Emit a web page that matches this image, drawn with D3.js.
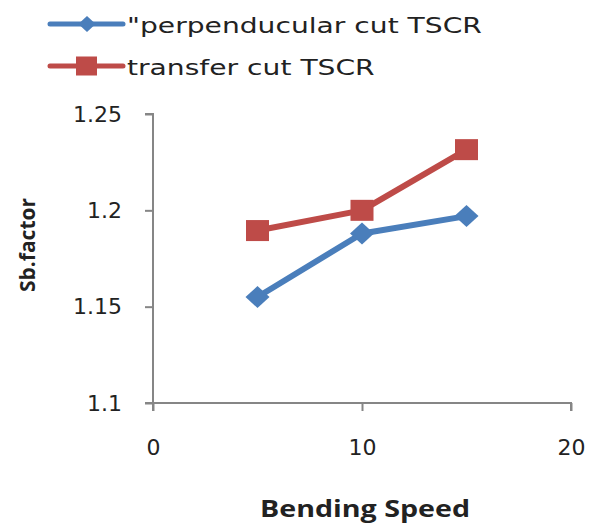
<!DOCTYPE html>
<html><head><meta charset="utf-8">
<script src="https://cdn.jsdelivr.net/npm/d3@7"></script>
<style>body{margin:0;background:#fff}svg{display:block}</style>
</head><body>
<svg id="c" width="596" height="523"></svg>
<script>
const xValues = [5, 10, 15];
const perpendicular = [1.155, 1.188, 1.197];
const transfer = [1.1895, 1.2, 1.2315];
const seriesNames = ['"perpendu cular cut TSCR'.replace(' ', ''), 'transfer cut TSCR'];
const xTicks = [0, 10, 20];
const yTicks = [1.1, 1.15, 1.2, 1.25];
const yTickLabels = ["1.1", "1.15", "1.2", "1.25"];

const svg = d3.select("#c");
const x = d3.scaleLinear().domain([0, 20]).range([153, 571]);
const y = d3.scaleLinear().domain([1.1, 1.25]).range([403, 114]);
const axisColor = "#868686";
const font = "DejaVu Sans, Verdana, sans-serif";
const boldFont = "Open Sans, Calibri, sans-serif";

const gx = svg.append("g").attr("transform", "translate(0,403)")
  .call(d3.axisBottom(x).tickValues(xTicks).tickSize(8).tickPadding(28).tickFormat(d3.format("d")));
const gy = svg.append("g").attr("transform", "translate(153,0)")
  .call(d3.axisLeft(y).tickValues(yTicks).tickSize(8).tickPadding(23).tickFormat((d,i)=>yTickLabels[i]));
[gx, gy].forEach(g => {
  g.select(".domain").attr("stroke", axisColor).attr("stroke-width", 2);
  g.selectAll(".tick line").attr("stroke", axisColor).attr("stroke-width", 2);
  g.selectAll(".tick text").attr("fill", "#222").style("font-family", font).style("font-size", "22px");
});
gx.select(".domain").attr("d", "M" + (x.range()[0]-8) + ",0H" + x.range()[1] + "V8");
gy.select(".domain").attr("d", "M-8," + y.range()[1] + "H0V" + (y.range()[0]+8));

const colors = ["#4a7ebb", "#be4b48"];
const data = [perpendicular, transfer];
const line = d3.line().x((d,i)=>x(xValues[i])).y(d=>y(d));
data.forEach((s, k) => {
  svg.append("path").attr("d", line(s)).attr("fill","none").attr("stroke", colors[k]).attr("stroke-width", 6).attr("stroke-linejoin","round");
});
function marker(g, k, cx, cy, s) {
  if (k === 0) {
    const w = 12 * s, h = 11 * s;
    g.append("path").attr("d", `M${cx-w},${cy}L${cx},${cy-h}L${cx+w},${cy}L${cx},${cy+h}Z`).attr("fill", colors[0]);
  } else {
    const w = 11.5 * s, h = 10.5 * s;
    g.append("rect").attr("x", cx-w).attr("y", cy-h).attr("width", 2*w).attr("height", 2*h).attr("fill", colors[1]);
  }
}
data.forEach((s, k) => s.forEach((v, i) => marker(svg, k, x(xValues[i]), y(v), 1)));

// legend
const legY = [24, 66];
const texts = [];
seriesNames.forEach((name, k) => {
  svg.append("line").attr("x1", 50).attr("x2", 123).attr("y1", legY[k]).attr("y2", legY[k])
    .attr("stroke", colors[k]).attr("stroke-width", 5).attr("stroke-linecap","round");
  if (k === 0) marker(svg, 0, 87, legY[k], 0.72);
  else svg.append("rect").attr("x", 76).attr("y", legY[k]-9.5).attr("width", 21).attr("height", 19).attr("fill", colors[1]);
  texts.push(svg.append("text").attr("x", 0).attr("y", 0)
    .attr("transform", `translate(127,${legY[k]+9})`)
    .style("font-family", font).style("font-size", "21px").attr("fill", "#222").text(name));
});
const natural = texts[0].node().getComputedTextLength();
const sx = 355 / natural;
texts.forEach((t, k) => t.attr("transform", `translate(127,${legY[k]+9}) scale(${sx},1)`));

svg.append("text").attr("transform", "translate(35,245) rotate(-90)").attr("text-anchor","middle")
  .attr("textLength", 94).attr("lengthAdjust", "spacingAndGlyphs")
  .style("font-family", boldFont).style("font-weight","bold").style("font-size","22px").attr("fill","#222").text("Sb.factor");
svg.append("text").attr("x", 365).attr("y", 517).attr("text-anchor","middle")
  .attr("textLength", 210).attr("lengthAdjust", "spacingAndGlyphs")
  .style("font-family", boldFont).style("font-weight","bold").style("font-size","23px").attr("fill","#222").text("Bending Speed");
</script>
</body></html>
